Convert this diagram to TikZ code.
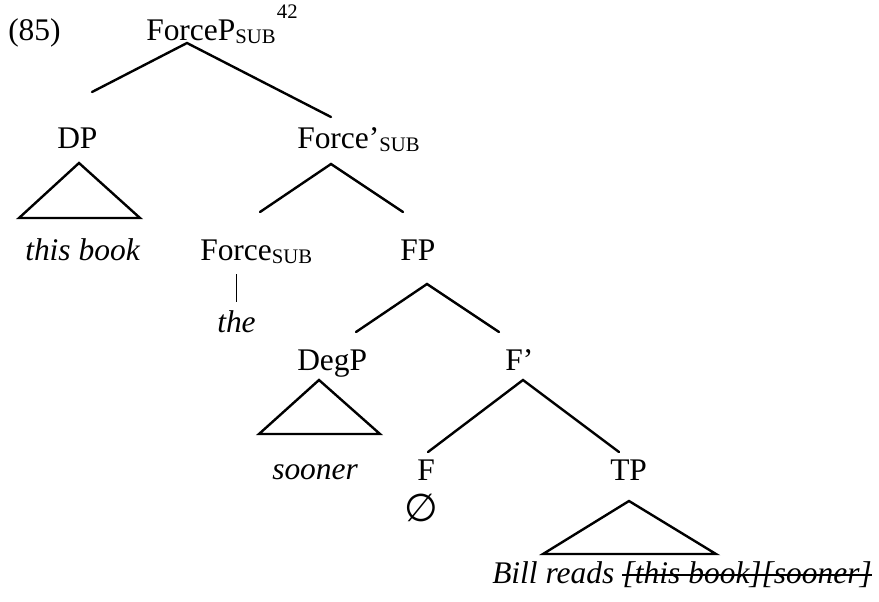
\documentclass[tikz,border=0pt]{standalone}
\usepackage{fontspec}
\setmainfont{Liberation Serif}
\newfontfamily\symfont{DejaVu Sans}
\newcommand{\sbsc}[1]{\raisebox{-2.4pt}{\fontsize{15.5}{18}\selectfont #1}}
\newcommand{\spsc}[1]{\raisebox{16.5pt}{\fontsize{15.5}{18}\selectfont #1}}
\begin{document}
\begin{tikzpicture}[x=0.75pt,y=-0.75pt,
  lab/.style={anchor=base west,inner sep=0pt,font=\fontsize{23.6}{28}\selectfont},
  br/.style={line width=1.8pt,line cap=round,line join=miter}]
\useasboundingbox (0,0) rectangle (879,601);
% labels
\node[lab] (ex) at (8,40) {(85)};
\node[lab] (root) at (146,40) {ForceP\sbsc{SUB}\kern1pt\spsc{42}};
\node[lab] (dp) at (57,148) {DP};
\node[lab] (fbar) at (297,148) {Force’\sbsc{SUB}};
\node[lab] (thisbook) at (25,260) {\itshape this book};
\node[lab] (force) at (200,260) {Force\sbsc{SUB}};
\node[lab] (fp) at (400,260) {FP};
\node[lab] (the) at (217,332) {\itshape the};
\node[lab] (degp) at (297,370) {DegP};
\node[lab] (fpbar) at (505,370) {F’};
\node[lab] (sooner) at (272,479) {\itshape sooner};
\node[lab] (f) at (417,480) {F};
\node[lab] (tp) at (610,480) {TP};
\node[inner sep=0pt,font=\symfont\fontsize{29}{32}\selectfont] (empty) at (421,508) {∅};
\node[lab] (bill) at (492,583) {\itshape Bill reads\ \null};
\node[lab] (del) at (bill.base east) {\itshape [this book][sooner]};
% branch end points
\coordinate (r0) at (187,43); \coordinate (r1) at (92,92); \coordinate (r2) at (331,117);
\coordinate (d0) at (79,163); \coordinate (d1) at (19,218); \coordinate (d2) at (140,218);
\coordinate (b0) at (331,164); \coordinate (b1) at (260,212); \coordinate (b2) at (403,212);
\coordinate (h0) at (236,274); \coordinate (h1) at (236,302);
\coordinate (p0) at (427,284); \coordinate (p1) at (356,332); \coordinate (p2) at (499,332);
\coordinate (g0) at (319,380); \coordinate (g1) at (259,434); \coordinate (g2) at (380,434);
\coordinate (q0) at (523,380); \coordinate (q1) at (428,452); \coordinate (q2) at (619,452);
\coordinate (t0) at (629,501); \coordinate (t1) at (543,554); \coordinate (t2) at (716,554);
% branches
\draw[br] (r1) -- (r0) -- (r2);
\draw[br] (d0) -- (d1) -- (d2) -- cycle;
\draw[br] (b1) -- (b0) -- (b2);
\draw[line width=0.6pt] (h0) -- (h1);
\draw[br] (p1) -- (p0) -- (p2);
\draw[br] (g0) -- (g1) -- (g2) -- cycle;
\draw[br] (q1) -- (q0) -- (q2);
\draw[br] (t0) -- (t1) -- (t2) -- cycle;
% strike-out
\draw[line width=1.1pt] ([yshift=6pt]del.base west) -- ([yshift=6pt]del.base east);
\end{tikzpicture}
\end{document}
